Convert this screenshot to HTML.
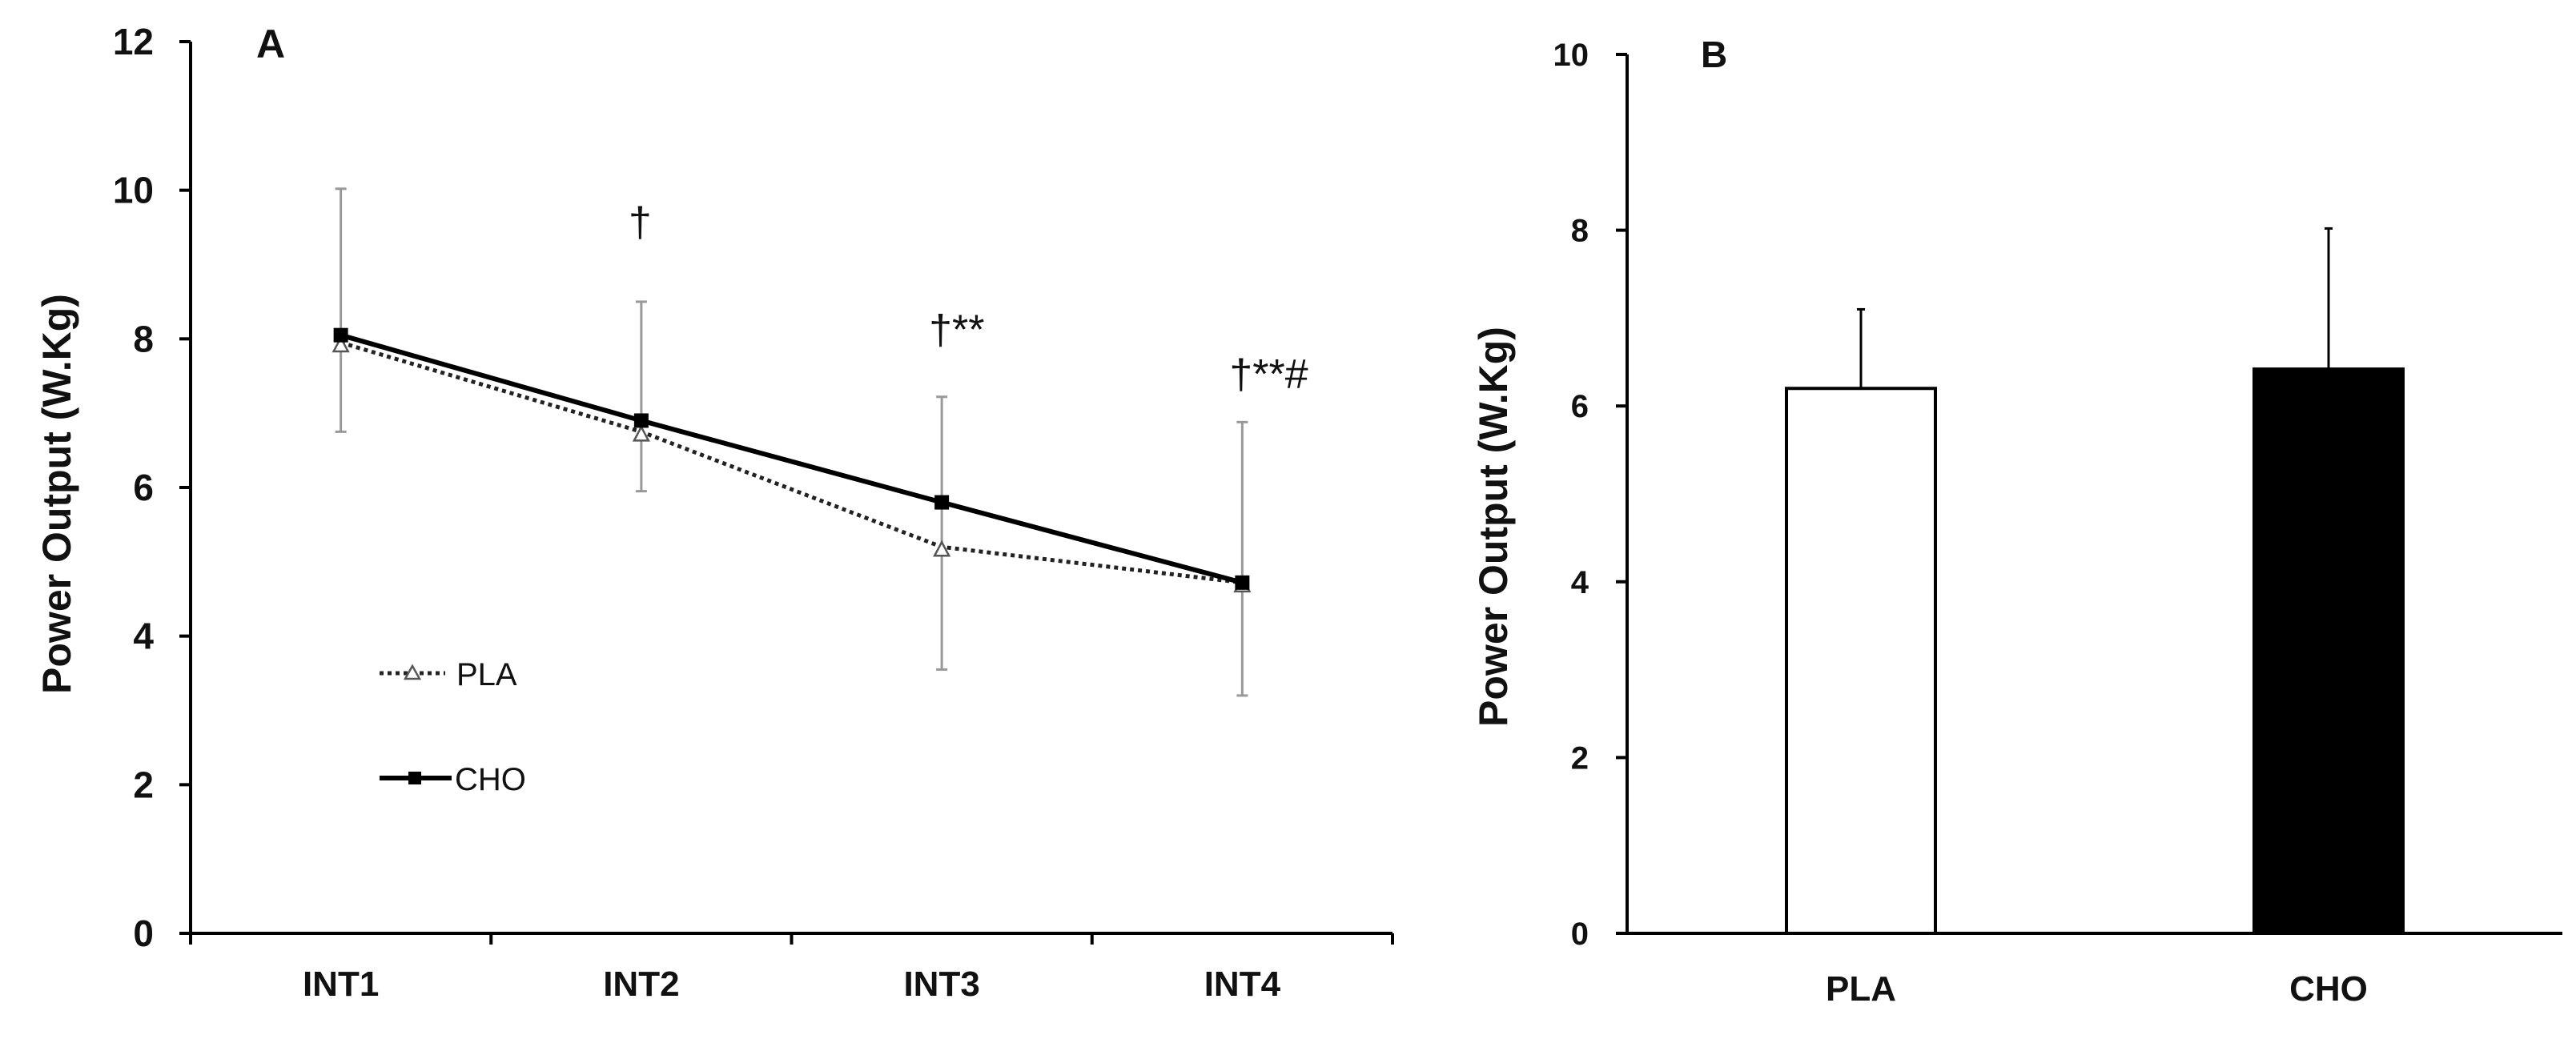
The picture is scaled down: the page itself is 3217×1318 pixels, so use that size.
<!DOCTYPE html>
<html><head><meta charset="utf-8"><style>
html,body{margin:0;padding:0;background:#fff;}
svg{display:block;}
text{font-family:"Liberation Sans",sans-serif;font-weight:bold;fill:#111;}
text.nw{font-weight:normal;}
</style></head><body>
<svg id="chart" width="3217" height="1318" viewBox="0 0 3217 1318" xmlns="http://www.w3.org/2000/svg">
<g id="panelA"></g>
<g id="panelB"></g>
</svg>
<script>
const catsA = ["INT1","INT2","INT3","INT4"];
const choVals = [8.05, 6.9, 5.8, 4.72];
const plaVals = [7.95, 6.75, 5.2, 4.72];
const errLow = [6.75, 5.95, 3.55, 3.2];
const errHigh = [10.02, 8.5, 7.22, 6.88];
const annotations = ["", "†", "†**", "†**#"];
const annotY = [0, 9.6, 8.15, 7.55];
const ticksA = [0,2,4,6,8,10,12];

const catsB = ["PLA","CHO"];
const barVals = [6.2, 6.42];
const barErr = [0.9, 1.6];
const ticksB = [0,2,4,6,8,10];

const NS = "http://www.w3.org/2000/svg";
function mk(parent, tag, attrs, txt){
  const e = document.createElementNS(NS, tag);
  for (const k in attrs) e.setAttribute(k, attrs[k]);
  if (txt !== undefined) e.textContent = txt;
  parent.appendChild(e);
  return e;
}

// Panel A
const A = document.getElementById('panelA');
const ax0 = 238, ax1 = 1739, ay0 = 1166, ay1 = 52, aMax = 12;
const yA = v => ay0 - (v / aMax) * (ay0 - ay1);
const bandA = (ax1 - ax0) / catsA.length;
const xA = i => ax0 + bandA * (i + 0.5);

let e;
e = mk(A, 'line', {x1:ax0, y1:ay1, x2:ax0, y2:ay0, stroke:'#000','stroke-width':4});


e = mk(A, 'line', {x1:ax0-2, y1:ay0, x2:ax1, y2:ay0, stroke:'#000','stroke-width':4});


ticksA.forEach(t => {
  const y = yA(t);
  e = mk(A, 'line', {x1:ax0-14, y1:y, x2:ax0, y2:y, stroke:'#000','stroke-width':4});
  
  
  e = mk(A, 'text', {x:ax0-46, y:y+16, 'text-anchor':'end','font-size':46}, String(t));
  
  
});
for (let i = 0; i <= catsA.length; i++) {
  const x = ax0 + bandA * i;
  e = mk(A, 'line', {x1:x, y1:ay0, x2:x, y2:ay0+14, stroke:'#000','stroke-width':4});
  
  
}
catsA.forEach((c, i) => {
  e = mk(A, 'text', {x:xA(i), y:1244, 'text-anchor':'middle','font-size':44}, c);
  
  
});
e = mk(A, 'text', {x:0, y:0, 'text-anchor':'middle','font-size':50, transform:'translate(88,617) rotate(-90)'}, 'Power Output (W.Kg)');


e = mk(A, 'text', {x:320, y:72, 'font-size':50}, 'A');



catsA.forEach((c, i) => {
  const x = xA(i);
  e = mk(A, 'line', {x1:x, y1:yA(errLow[i]), x2:x, y2:yA(errHigh[i]), stroke:'#999','stroke-width':3});
  
  
  [errLow[i], errHigh[i]].forEach(v => {
    e = mk(A, 'line', {x1:x-7, y1:yA(v), x2:x+7, y2:yA(v), stroke:'#999','stroke-width':3});
    
    
  });
});
e = mk(A, 'polyline', {points: plaVals.map((v,i)=>xA(i)+','+yA(v)).join(' '), fill:'none', stroke:'#222','stroke-width':5,'stroke-dasharray':'5 5'});


e = mk(A, 'polyline', {points: choVals.map((v,i)=>xA(i)+','+yA(v)).join(' '), fill:'none', stroke:'#000','stroke-width':6});


plaVals.forEach((v, i) => {
  const x = xA(i), y = yA(v) + 4;
  e = mk(A, 'polygon', {points:`${x},${y-10} ${x-9},${y+7} ${x+9},${y+7}`, fill:'#fff', stroke:'#555','stroke-width':2.5});
  
  
});
choVals.forEach((v, i) => {
  e = mk(A, 'rect', {x:xA(i)-9, y:yA(v)-9, width:18, height:18, fill:'#000'});
  
  
});
annotations.forEach((s, i) => {
  if (!s) return;
  e = mk(A, 'text', {x:xA(i)-16, y:yA(annotY[i])+20, 'font-size':52, 'class':'nw'}, s);
  
  
});
e = mk(A, 'line', {x1:474, y1:841, x2:556, y2:841, stroke:'#222','stroke-width':5,'stroke-dasharray':'5 5'});


e = mk(A, 'polygon', {points:'515,832 506,848 524,848', fill:'#fff', stroke:'#555','stroke-width':2.5});


e = mk(A, 'text', {x:570, y:856, 'font-size':40, 'class':'nw', fill:'#333'}, 'PLA');


e = mk(A, 'line', {x1:474, y1:972, x2:564, y2:972, stroke:'#000','stroke-width':6});


e = mk(A, 'rect', {x:510, y:964, width:16, height:16, fill:'#000'});


e = mk(A, 'text', {x:568, y:987, 'font-size':40, 'class':'nw', fill:'#333'}, 'CHO');



// Panel B
const B = document.getElementById('panelB');
const bx0 = 2032, bx1 = 3200, by0 = 1166, by1 = 68, bMax = 10;
const yB = v => by0 - (v / bMax) * (by0 - by1);
const bandB = (bx1 - bx0) / catsB.length;
const xB = i => bx0 + bandB * (i + 0.5);
const barW = 186;

catsB.forEach((c, i) => {
  const x = xB(i);
  e = mk(B, 'line', {x1:x, y1:yB(barVals[i]), x2:x, y2:yB(barVals[i]+barErr[i]), stroke:'#000','stroke-width':3});
  
  
  e = mk(B, 'line', {x1:x-5, y1:yB(barVals[i]+barErr[i]), x2:x+5, y2:yB(barVals[i]+barErr[i]), stroke:'#000','stroke-width':3});
  
  
  e = mk(B, 'rect', {x:x-barW/2, y:yB(barVals[i]), width:barW, height:yB(0)-yB(barVals[i]), fill: i===0?'#fff':'#000', stroke:'#000','stroke-width':4});
  
  
  e = mk(B, 'text', {x:x, y:1250, 'text-anchor':'middle','font-size':44}, c);
  
  
});
e = mk(B, 'line', {x1:bx0, y1:by1, x2:bx0, y2:by0, stroke:'#000','stroke-width':4});


e = mk(B, 'line', {x1:bx0-14, y1:by0, x2:bx1, y2:by0, stroke:'#000','stroke-width':4});


ticksB.forEach(t => {
  const y = yB(t);
  e = mk(B, 'line', {x1:bx0-14, y1:y, x2:bx0, y2:y, stroke:'#000','stroke-width':4});
  
  
  e = mk(B, 'text', {x:bx0-48, y:y+14, 'text-anchor':'end','font-size':40}, String(t));
  
  
});
e = mk(B, 'text', {x:0, y:0, 'text-anchor':'middle','font-size':50, transform:'translate(1882,658) rotate(-90)'}, 'Power Output (W.Kg)');


e = mk(B, 'text', {x:2124, y:84, 'font-size':46}, 'B');


</script>
</body></html>
